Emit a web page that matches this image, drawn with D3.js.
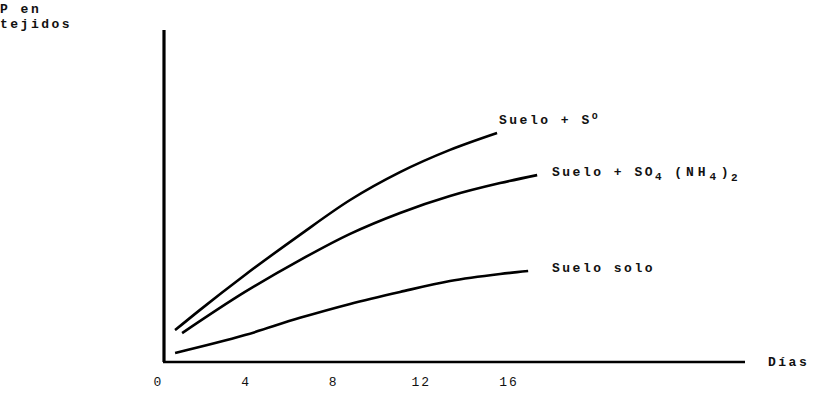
<!DOCTYPE html>
<html><head><meta charset="utf-8">
<script src="https://cdn.jsdelivr.net/npm/d3@7"></script>
<style>
html,body{margin:0;padding:0;background:#fff;}
text{font-family:"Liberation Mono","DejaVu Sans Mono",monospace;fill:#111;letter-spacing:2.5px;font-weight:bold;}
</style></head>
<body>
<svg id="chart" width="820" height="395"></svg>
<script>
// Data (days, relative P level 0-100)
const xTicks = [0, 4, 8, 12, 16];
const seriesNames = ["Suelo + S°", "Suelo + SO4 (NH4)2", "Suelo solo"];
const daysS0 = [0.78, 1.92, 3.97, 6.48, 8.77, 11.05, 13.33, 15.48];
const valsS0 = [9.6, 15.7, 26.2, 38.3, 48.8, 57.2, 63.9, 69.0];
const daysSO4 = [1.10, 3.97, 6.48, 8.77, 11.05, 13.33, 15.62, 17.31];
const valsSO4 = [8.7, 21.1, 30.7, 38.6, 44.9, 50.0, 53.9, 56.3];
const daysSolo = [0.78, 3.97, 6.48, 8.77, 11.05, 13.33, 15.62, 16.9];
const valsSolo = [2.7, 8.1, 13.3, 17.5, 21.1, 24.4, 26.5, 27.4];

const svg = d3.select("#chart");
const x = d3.scaleLinear().domain([0, 26.8]).range([158, 745]);
const y = d3.scaleLinear().domain([0, 100]).range([362, 30]);

// axes
svg.append("line").attr("x1", 164).attr("x2", 164).attr("y1", y(100)).attr("y2", y(0))
  .attr("stroke", "#000").attr("stroke-width", 3.2);
svg.append("line").attr("x1", 163).attr("x2", x(26.8)).attr("y1", y(0)).attr("y2", y(0))
  .attr("stroke", "#000").attr("stroke-width", 2.6);

const xAxis = d3.axisBottom(x).tickValues(xTicks).tickSize(0).tickPadding(15).tickFormat(d3.format("d"));
const gx = svg.append("g").attr("transform", `translate(0,${y(0)})`).call(xAxis);
gx.select(".domain").remove();
gx.selectAll("text").style("font-family", '"Liberation Mono","DejaVu Sans Mono",monospace')
  .style("font-size", "13px").style("letter-spacing", "2px").style("font-weight", "normal").attr("fill", "#111");

svg.append("text").attr("x", 768).attr("y", y(0) + 4).style("font-size", "13px").text("Días");
svg.append("text").attr("x", 0).attr("y", 13).style("font-size", "13px").text("P en");
svg.append("text").attr("x", 0).attr("y", 28).style("font-size", "13px").text("tejidos");

const line = d3.line().x(d => x(d[0])).y(d => y(d[1])).curve(d3.curveMonotoneX);
const series = [
  d3.zip(daysS0, valsS0),
  d3.zip(daysSO4, valsSO4),
  d3.zip(daysSolo, valsSolo)
];
svg.selectAll("path.curve").data(series).join("path").attr("class", "curve")
  .attr("d", line).attr("fill", "none").attr("stroke", "#000").attr("stroke-width", 2.6);

// labels
const l1 = svg.append("text").attr("x", 499).attr("y", 124).style("font-size", "13px");
l1.append("tspan").text("Suelo + S");
l1.append("tspan").attr("dy", -5).style("font-size", "10px").text("o");
const l2 = svg.append("text").attr("x", 552).attr("y", 176).style("font-size", "13px");
l2.append("tspan").text("Suelo + SO");
l2.append("tspan").attr("dy", 4).style("font-size", "11px").text("4");
l2.append("tspan").attr("dy", -4).attr("dx", 10).style("letter-spacing", "4px").text("(NH");
l2.append("tspan").attr("dy", 4).style("font-size", "11px").text("4");
l2.append("tspan").attr("dy", -4).attr("dx", 2).text(")");
l2.append("tspan").attr("dy", 5).style("font-size", "11px").text("2");
svg.append("text").attr("x", 552).attr("y", 272).style("font-size", "13px").text(seriesNames[2]);
</script>
</body></html>
